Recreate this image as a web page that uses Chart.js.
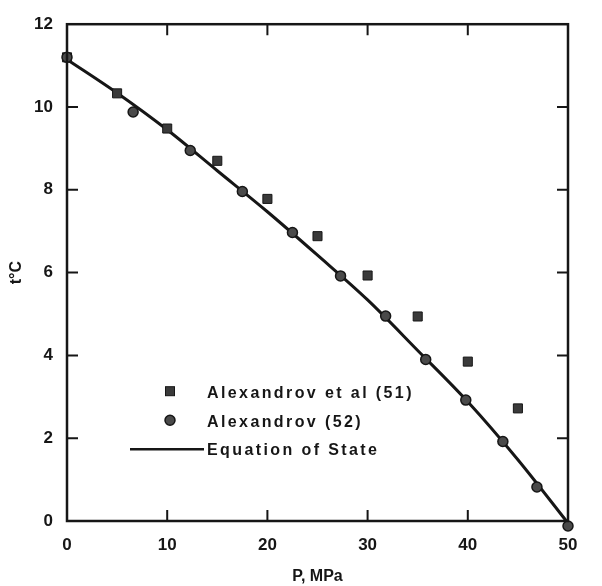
<!DOCTYPE html>
<html>
<head>
<meta charset="utf-8">
<title>t °C vs P, MPa</title>
<script src="https://cdn.jsdelivr.net/npm/chart.js@4.4.1/dist/chart.umd.min.js"></script>
<style>
  html, body { margin: 0; padding: 0; background: #fff; }
  #wrap { width: 602px; height: 586px; }
</style>
</head>
<body>
<div id="wrap"><canvas id="c" width="602" height="586"></canvas></div>
<script>
// data (P in MPa, t in °C)
const xTicks = [0, 10, 20, 30, 40, 50];
const yTicks = [0, 2, 4, 6, 8, 10, 12];

// Alexandrov et al (51)
const sqP = [0, 5, 10, 15, 20, 25, 30, 35, 40, 45];
const sqT = [11.2, 10.33, 9.48, 8.7, 7.78, 6.88, 5.93, 4.94, 3.85, 2.72];

// Alexandrov (52)
const ciP = [0, 6.6, 12.3, 17.5, 22.5, 27.3, 31.8, 35.8, 39.8, 43.5, 46.9, 50];
const ciT = [11.2, 9.88, 8.95, 7.96, 6.97, 5.92, 4.95, 3.9, 2.92, 1.92, 0.82, -0.12];

// Equation of State
const eqP = [0, 5, 10, 15, 20, 25, 30, 35, 40, 45, 50];
const eqT = [11.15, 10.34, 9.45, 8.46, 7.47, 6.42, 5.34, 4.12, 2.88, 1.48, -0.05];

const ink = '#161616';
const fontFam = "'Liberation Sans', Arial, sans-serif";

const pts = (xs, ys) => xs.map((x, i) => ({x: x, y: ys[i]}));

// frame, inward ticks and the in-plot legend
const decor = {
  id: 'decor',
  afterDatasetsDraw(chart) {
    const {ctx, chartArea: a, scales: {x, y}} = chart;
    ctx.save();
    ctx.strokeStyle = ink;
    ctx.lineWidth = 2.5;
    ctx.strokeRect(a.left, a.top, a.right - a.left, a.bottom - a.top);
    ctx.lineWidth = 2;
    const tl = 11;
    ctx.beginPath();
    xTicks.slice(1, -1).forEach(v => {
      const px = x.getPixelForValue(v);
      ctx.moveTo(px, a.bottom); ctx.lineTo(px, a.bottom - tl);
      ctx.moveTo(px, a.top); ctx.lineTo(px, a.top + tl);
    });
    yTicks.slice(1, -1).forEach(v => {
      const py = y.getPixelForValue(v);
      ctx.moveTo(a.left, py); ctx.lineTo(a.left + tl, py);
      ctx.moveTo(a.right, py); ctx.lineTo(a.right - tl, py);
    });
    ctx.stroke();

    // legend
    const lx = a.left + 103, ly = a.top + 367, gap = 29, tx = a.left + 140;
    ctx.fillStyle = '#3a3a3a'; ctx.strokeStyle = ink; ctx.lineWidth = 1;
    ctx.fillRect(lx - 4.5, ly - 4.5, 9, 9); ctx.strokeRect(lx - 4.5, ly - 4.5, 9, 9);
    ctx.beginPath(); ctx.arc(lx, ly + gap, 5, 0, Math.PI * 2);
    ctx.fillStyle = '#4a4a4a'; ctx.fill(); ctx.lineWidth = 1.5; ctx.stroke();
    ctx.lineWidth = 2.5;
    ctx.beginPath(); ctx.moveTo(a.left + 63, ly + 2 * gap); ctx.lineTo(tx - 3, ly + 2 * gap); ctx.stroke();
    ctx.fillStyle = ink;
    ctx.font = 'bold 16px ' + fontFam;
    ctx.textBaseline = 'middle';
    ctx.letterSpacing = '2.4px';
    ctx.fillText('Alexandrov et al (51)', tx, ly + 2);
    ctx.fillText('Alexandrov (52)', tx, ly + gap + 2);
    ctx.fillText('Equation of State', tx, ly + 2 * gap + 1);
    ctx.restore();
  }
};

new Chart(document.getElementById('c'), {
  type: 'scatter',
  data: {
    datasets: [
      {
        label: 'Equation of State',
        type: 'line',
        data: pts(eqP, eqT),
        borderColor: ink,
        borderWidth: 3,
        pointRadius: 0,
        cubicInterpolationMode: 'monotone',
        clip: false,
        order: 2
      },
      {
        label: 'Alexandrov et al (51)',
        data: pts(sqP, sqT),
        pointStyle: 'rect',
        pointRadius: 6.4,
        backgroundColor: '#3a3a3a',
        borderColor: ink,
        borderWidth: 1,
        clip: false,
        order: 1
      },
      {
        label: 'Alexandrov (52)',
        data: pts(ciP, ciT),
        pointStyle: 'circle',
        pointRadius: 5,
        backgroundColor: '#4a4a4a',
        borderColor: ink,
        borderWidth: 1.5,
        clip: false,
        order: 0
      }
    ]
  },
  options: {
    responsive: false,
    animation: false,
    layout: { padding: { top: 17, right: 34, left: 0, bottom: 0 } },
    plugins: { legend: { display: false }, tooltip: { enabled: false } },
    scales: {
      x: {
        type: 'linear', min: 0, max: 50,
        afterBuildTicks: s => { s.ticks = xTicks.map(v => ({value: v})); },
        afterFit: s => { s.height = 65; },
        grid: { display: false, drawTicks: false },
        border: { display: false },
        ticks: { padding: 14, color: ink, font: { family: fontFam, size: 17, weight: 'bold' } },
        title: { display: true, text: 'P, MPa', color: ink, padding: { top: 0, bottom: 0 },
                 font: { family: fontFam, size: 16, weight: 'bold' } }
      },
      y: {
        type: 'linear', min: 0, max: 12,
        afterBuildTicks: s => { s.ticks = yTicks.map(v => ({value: v})); },
        afterFit: s => { s.width = 67; },
        grid: { display: false, drawTicks: false },
        border: { display: false },
        ticks: { padding: 14, color: ink, font: { family: fontFam, size: 17, weight: 'bold' } },
        title: { display: true, text: 't°C', color: ink, padding: { top: 7, bottom: 0 },
                 font: { family: fontFam, size: 16, weight: 'bold' } }
      }
    }
  },
  plugins: [decor]
});
</script>
</body>
</html>
